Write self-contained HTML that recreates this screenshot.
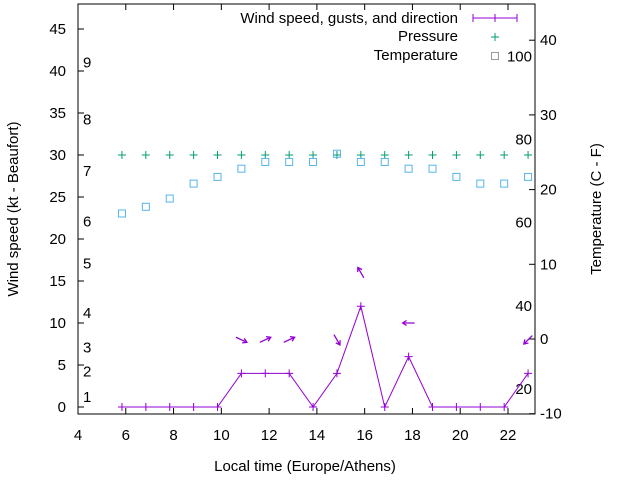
<!DOCTYPE html>
<html><head><meta charset="utf-8"><style>
body{margin:0;background:#fff;}
svg{display:block;font-family:"Liberation Sans",sans-serif;}
</style></head><body>
<svg id="c" width="640" height="480"></svg>
<script>
const hours=[5.84,6.84,7.84,8.84,9.84,10.84,11.84,12.84,13.84,14.84,15.84,16.84,17.84,18.84,19.84,20.84,21.84,22.84];
const windSpeed=[0,0,0,0,0,4,4,4,0,4,12,0,6,0,0,0,0,4];
const gustIdx=[5,6,7,9,10,12,17];
const gustVals=[8,8,8,8,16,10,8];
const gustHeading=[115,65,65,150,330,270,225];
const pressure=[30,30,30,30,30,30,30,30,30,30,30,30,30,30,30,30,30,30];
const temperature=[16.8,17.7,18.8,20.8,21.7,22.8,23.7,23.7,23.7,24.8,23.7,23.7,22.8,22.8,21.7,20.8,20.8,21.7];
const xTicks=[4,6,8,10,12,14,16,18,20,22];
const yTicks=[0,5,10,15,20,25,30,35,40,45];
const y2Ticks=[-10,0,10,20,30,40];
const beaufort=[[1,1.2],[2,4.2],[3,7.1],[4,11.2],[5,17.1],[6,22.1],[7,28.1],[8,34.2],[9,41]];
const fahr=[[20,-6.7],[40,4.4],[60,15.6],[80,26.7],[100,37.8]];

const L=78,R=535,T=4,B=414;
const X=h=>L+(h-4)*(508-78)/18;
const Y=v=>407-v*8.4;
const Y2=c=>339-c*7.47;
const svg=document.getElementById('c');
const NS='http://www.w3.org/2000/svg';
function mk(tag,a,txt){const e=document.createElementNS(NS,tag);for(const k in a)e.setAttribute(k,a[k]);if(txt!==undefined)e.textContent=txt;svg.appendChild(e);return e;}

let e=mk('rect',{x:L,y:T,width:R-L,height:B-T,fill:'none',stroke:'#000','stroke-width':1});

xTicks.forEach(t=>{const x=X(t);
 mk('line',{x1:x,y1:B,x2:x,y2:B-6,stroke:'#000'});mk('line',{x1:x,y1:T,x2:x,y2:T+6,stroke:'#000'});
 e=mk('text',{x:x,y:B+26,'text-anchor':'middle','font-size':15},t);
 });
yTicks.forEach(t=>{const y=Y(t);
 mk('line',{x1:L,y1:y,x2:L+6,y2:y,stroke:'#000'});
 e=mk('text',{x:L-12,y:y+5,'text-anchor':'end','font-size':15},t);
 });
y2Ticks.forEach(t=>{const y=Y2(t);
 mk('line',{x1:R,y1:y,x2:R-6,y2:y,stroke:'#000'});
 e=mk('text',{x:R+5,y:y+5,'font-size':15},t);
 });
beaufort.forEach(b=>{e=mk('text',{x:83,y:Y(b[1])+5,'font-size':15},b[0]);
 });
fahr.forEach(f=>{e=mk('text',{x:532,y:Y2(f[1])+5,'text-anchor':'end','font-size':15},f[0]);
 });

e=mk('text',{x:305,y:471,'text-anchor':'middle','font-size':15},'Local time (Europe/Athens)');

e=mk('text',{x:18,y:209,'text-anchor':'middle','font-size':15,transform:'rotate(-90 18 209)'},'Wind speed (kt - Beaufort)');

e=mk('text',{x:601,y:209,'text-anchor':'middle','font-size':15,transform:'rotate(-90 601 209)'},'Temperature (C - F)');


const purple='#9400d3',green='#009e73',blue='#56b4e9',gray='#999';
e=mk('polyline',{points:hours.map((h,i)=>X(h)+','+Y(windSpeed[i])).join(' '),fill:'none',stroke:purple,'stroke-width':1});

hours.forEach((h,i)=>{const x=X(h),y=Y(windSpeed[i]);
 e=mk('path',{d:`M${x-4},${y}H${x+4}M${x},${y-4}V${y+4}`,stroke:purple});
 });
gustIdx.forEach((idx,k)=>{const cx=X(hours[idx]),cy=Y(gustVals[k]);const a=gustHeading[k]*Math.PI/180;
 const dx=Math.sin(a),dy=-Math.cos(a),len=6;
 const x1=cx-dx*len,y1=cy-dy*len,x2=cx+dx*len,y2=cy+dy*len;
 const hx1=x2-dx*4-dy*2.5,hy1=y2-dy*4+dx*2.5,hx2=x2-dx*4+dy*2.5,hy2=y2-dy*4-dx*2.5;
 e=mk('path',{d:`M${x1},${y1}L${x2},${y2}M${hx1},${hy1}L${x2},${y2}L${hx2},${hy2}`,stroke:purple,fill:'none','stroke-width':1.3});
 });
hours.forEach((h,i)=>{const x=X(h),y=Y(pressure[i]);
 e=mk('path',{d:`M${x-4},${y}H${x+4}M${x},${y-4}V${y+4}`,stroke:green});
 });
hours.forEach((h,i)=>{const x=X(h),y=Y2(temperature[i]);
 e=mk('rect',{x:x-3.5,y:y-3.5,width:7,height:7,fill:'none',stroke:blue});
 });

e=mk('text',{x:458,y:23,'text-anchor':'end','font-size':15},'Wind speed, gusts, and direction');

mk('path',{d:'M473,18H517M473,14V22M495,14V22M517,14V22',stroke:purple});
e=mk('text',{x:458,y:41,'text-anchor':'end','font-size':15},'Pressure');

mk('path',{d:'M491,37H499M495,33V41',stroke:green});
e=mk('text',{x:458,y:60,'text-anchor':'end','font-size':15},'Temperature');

mk('rect',{x:491.5,y:52.5,width:7,height:7,fill:'none',stroke:gray});
</script>
</body></html>
